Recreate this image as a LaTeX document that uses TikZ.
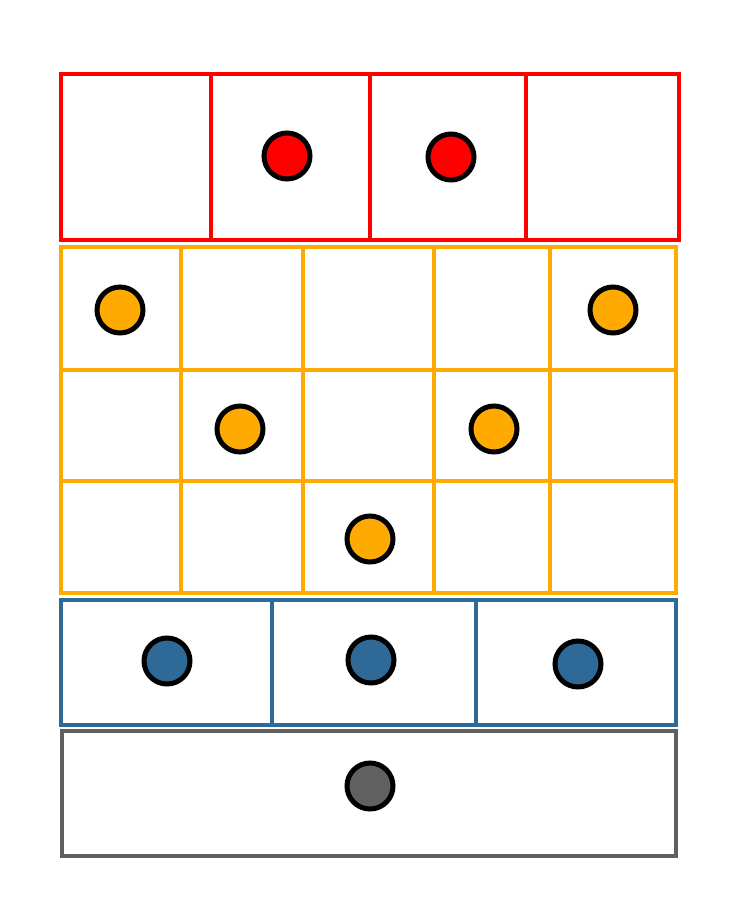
\documentclass[tikz,border=0pt]{standalone}
\definecolor{cred}{HTML}{FF0000}
\definecolor{corange}{HTML}{FFAA00}
\definecolor{cblue}{HTML}{2F6997}
\definecolor{cgray}{HTML}{606060}
\tikzset{
  grid/.style={line width=4.5pt, line join=miter},
  dot/.style={circle, draw=black, line width=5pt, minimum size=46pt, inner sep=0pt},
}
\begin{document}
\begin{tikzpicture}[x=1pt,y=-1pt]
\useasboundingbox (0,0) rectangle (738,922);
% red row
\draw[grid, cred] (61,74) rectangle (679,240);
\draw[grid, cred] (211,74) -- (211,240) (370,74) -- (370,240) (526,74) -- (526,240);
% orange grid
\draw[grid, corange] (61,247) rectangle (676,593);
\draw[grid, corange] (61,370) -- (676,370) (61,481) -- (676,481);
\draw[grid, corange] (181,247) -- (181,593) (303,247) -- (303,593) (434,247) -- (434,593) (550,247) -- (550,593);
% blue row
\draw[grid, cblue] (61,600) rectangle (676,725);
\draw[grid, cblue] (272,600) -- (272,725) (476,600) -- (476,725);
% gray row
\draw[grid, cgray] (62,731) rectangle (676,856);
% dots
\node[dot, fill=cred] (r1) at (287,156) {};
\node[dot, fill=cred] (r2) at (451,157) {};
\node[dot, fill=corange] (o1) at (120,310) {};
\node[dot, fill=corange] (o2) at (613,310) {};
\node[dot, fill=corange] (o3) at (240,429) {};
\node[dot, fill=corange] (o4) at (494,429) {};
\node[dot, fill=corange] (o5) at (370,539) {};
\node[dot, fill=cblue] (b1) at (167,661) {};
\node[dot, fill=cblue] (b2) at (371,660) {};
\node[dot, fill=cblue] (b3) at (578,664) {};
\node[dot, fill=cgray] (g1) at (370,786) {};
\end{tikzpicture}
\end{document}
